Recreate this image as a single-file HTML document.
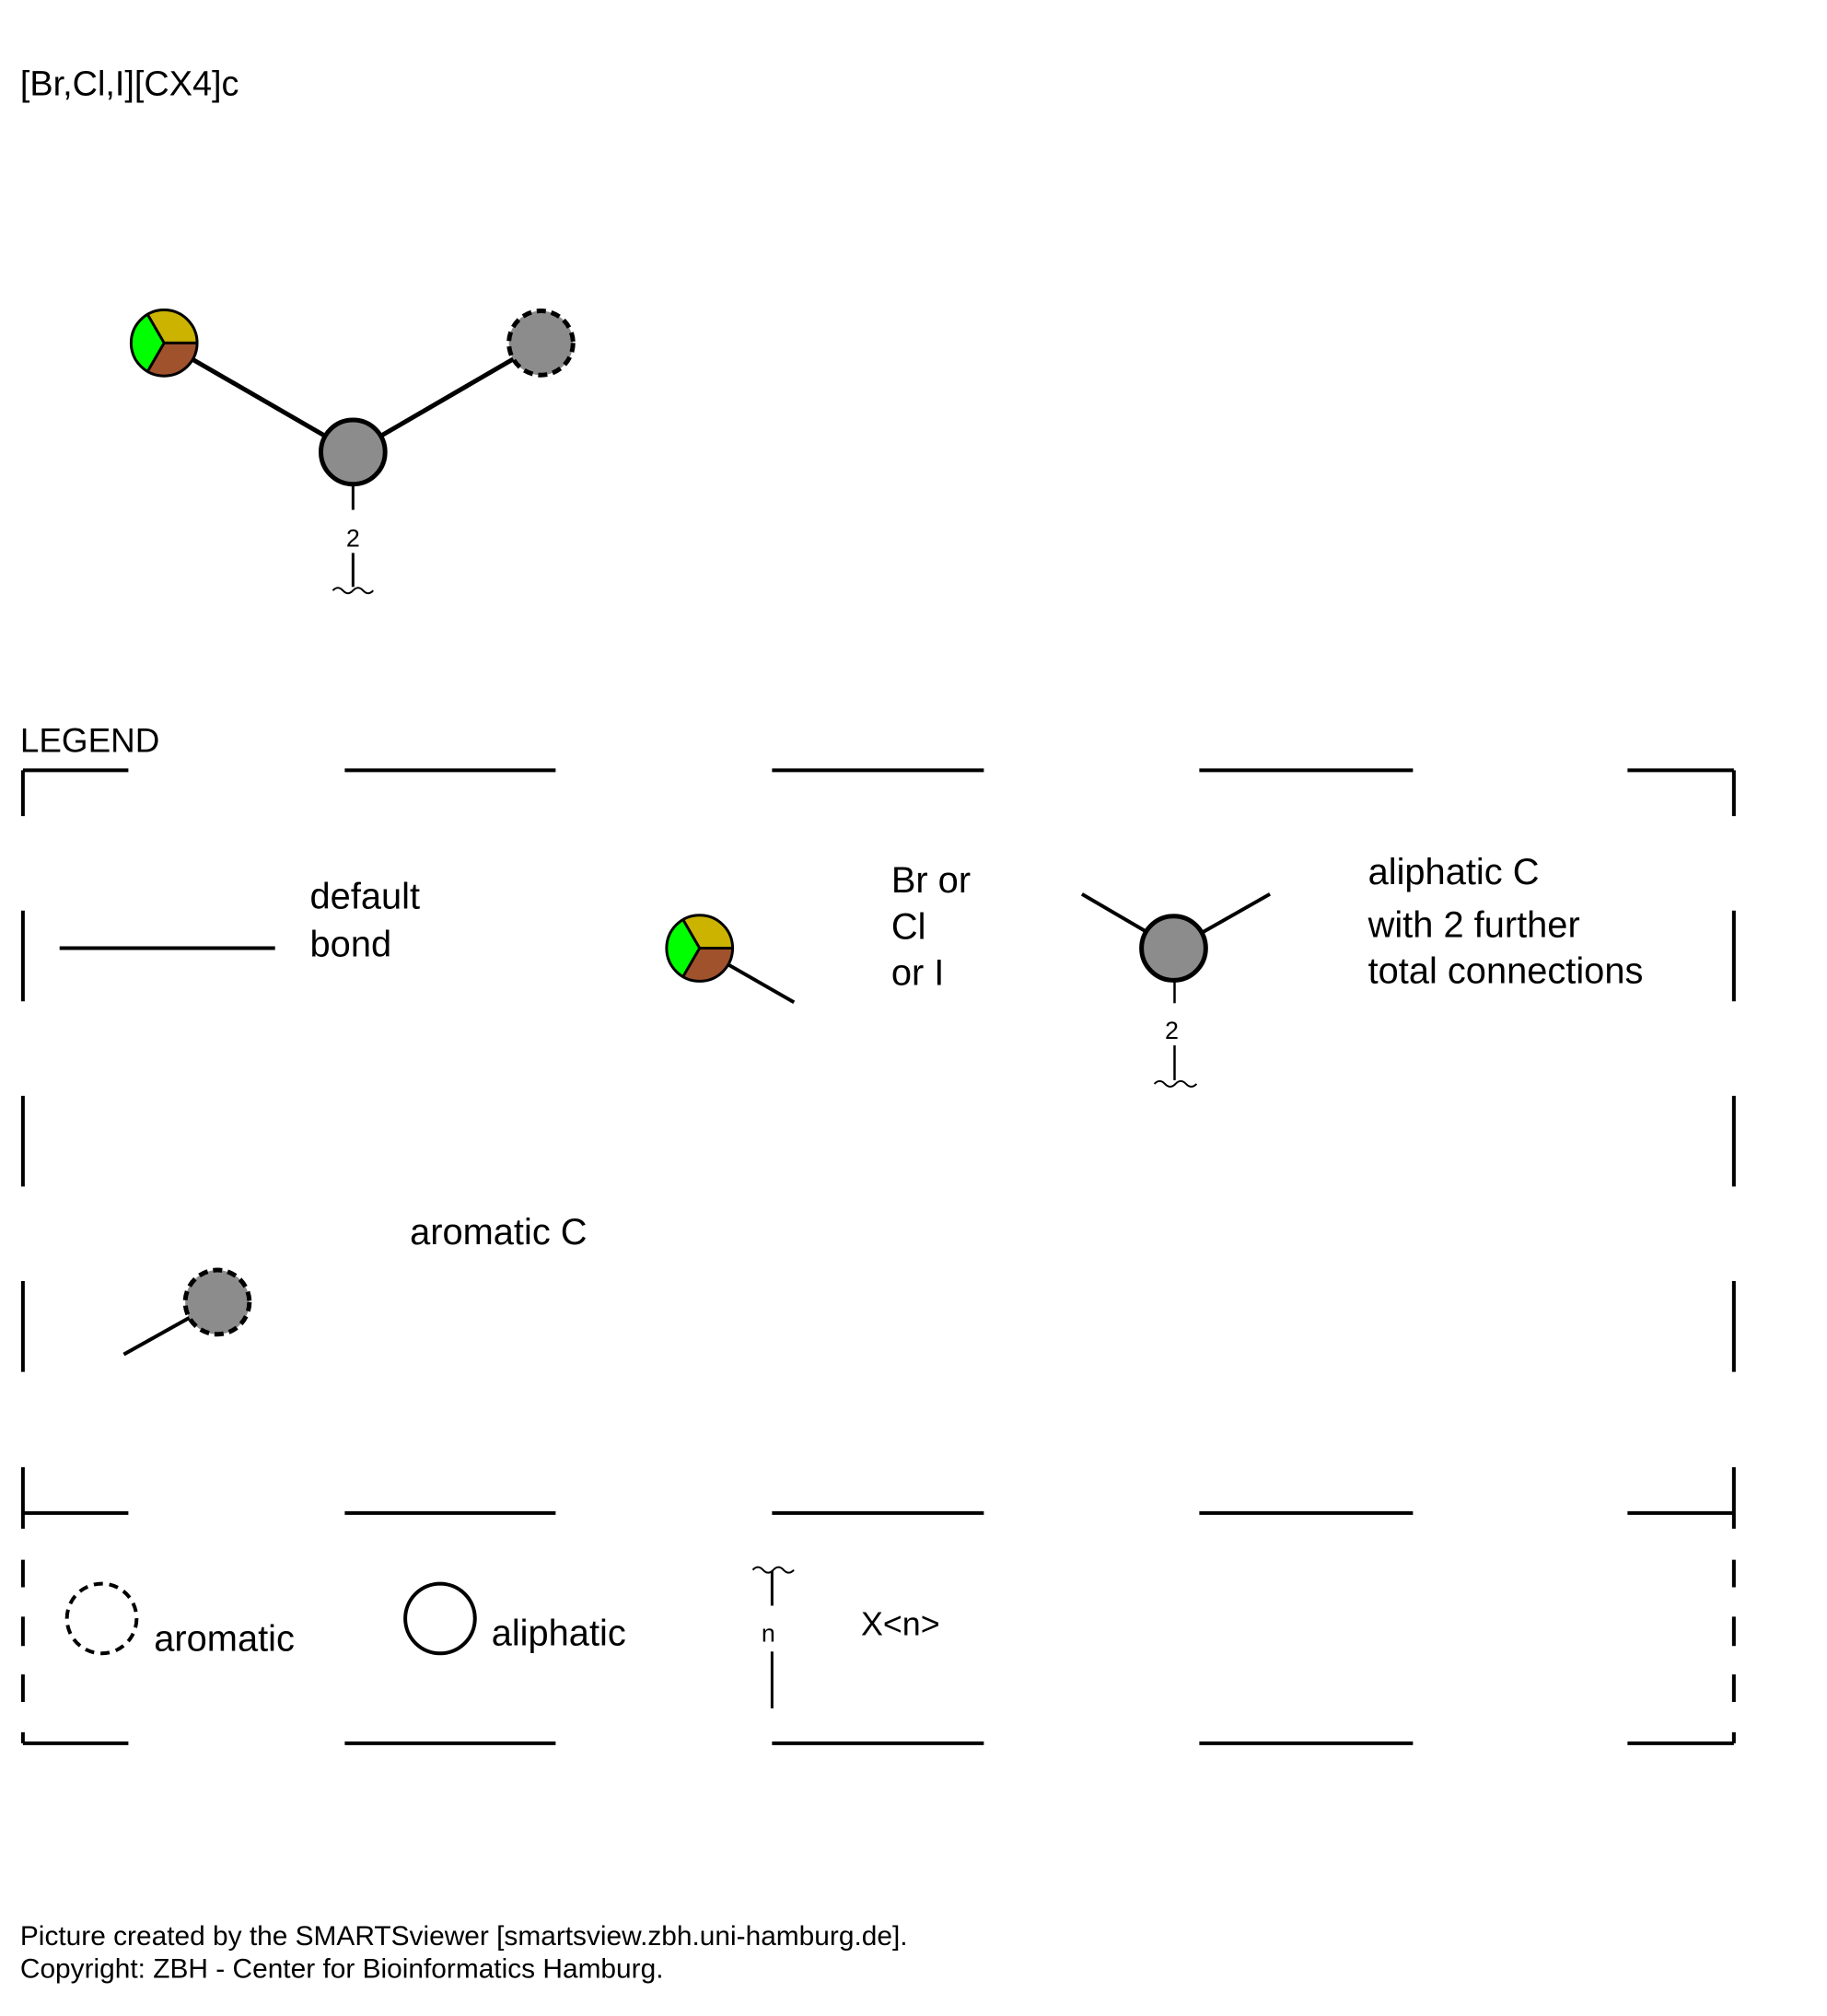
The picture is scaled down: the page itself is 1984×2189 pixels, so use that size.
<!DOCTYPE html>
<html><head><meta charset="utf-8"><style>
html,body{margin:0;padding:0;background:#fff;}
svg{display:block;}
text{font-family:"Liberation Sans",sans-serif;fill:#000;}
</style></head><body>
<svg width="1984" height="2189" viewBox="0 0 1984 2189">
<g transform="scale(0.9957)">
<text x="22" y="104" font-size="38">[Br,Cl,I][CX4]c</text>

<g>
  <line x1="179" y1="374" x2="385" y2="493" stroke="#000" stroke-width="5"/>
  <line x1="385" y1="493" x2="590" y2="374" stroke="#000" stroke-width="5"/>
  <g>
    <path d="M179,374 L161,343 A36,36 0 0 1 215,374 Z" fill="#ccb300"/>
    <path d="M179,374 L215,374 A36,36 0 0 1 161,405 Z" fill="#a0522d"/>
    <path d="M179,374 L161,405 A36,36 0 0 1 161,343 Z" fill="#00ff00"/>
    <path d="M179,374 L161,343 M179,374 L215,374 M179,374 L161,405" stroke="#000" stroke-width="3"/>
    <circle cx="179" cy="374" r="36" fill="none" stroke="#000" stroke-width="3"/>
  </g>
  <circle cx="590" cy="374" r="35" fill="#8c8c8c" stroke="#000" stroke-width="5" stroke-dasharray="10,6"/>
  <circle cx="385" cy="493" r="35" fill="#8c8c8c" stroke="#000" stroke-width="5"/>
  <line x1="385" y1="530" x2="385" y2="556" stroke="#000" stroke-width="3"/>
  <text x="385" y="596" font-size="27" text-anchor="middle">2</text>
  <line x1="385" y1="603" x2="385" y2="640" stroke="#000" stroke-width="3"/>
  <path d="M363,644 q5.5,-6 11,0 q5.5,6 11,0 q5.5,-6 11,0 q5.5,6 11,0" fill="none" stroke="#000" stroke-width="2"/>
</g>

<text x="22" y="820" font-size="37">LEGEND</text>

<g stroke="#000" stroke-width="4">
  <path d="M25,840H140 M376,840H606 M842,840H1073 M1308,840H1541 M1775,840H1891
           M25,1650H140 M376,1650H606 M842,1650H1073 M1308,1650H1541 M1775,1650H1891
           M25,1901H140 M376,1901H606 M842,1901H1073 M1308,1901H1541 M1775,1901H1891
           M25,840V890 M25,993V1092 M25,1195V1294 M25,1397V1496 M25,1600V1667 M25,1701V1731 M25,1763V1795 M25,1826V1856 M25,1889V1901
           M1891,840V890 M1891,993V1092 M1891,1195V1294 M1891,1397V1496 M1891,1600V1667 M1891,1701V1731 M1891,1763V1795 M1891,1826V1856 M1891,1889V1901" fill="none"/>
</g>

<g>
  <line x1="65" y1="1034" x2="300" y2="1034" stroke="#000" stroke-width="4"/>
  <text x="338" y="991" font-size="40">default</text>
  <text x="338" y="1043" font-size="40">bond</text>
</g>

<g>
  <line x1="763" y1="1034" x2="866" y2="1093" stroke="#000" stroke-width="4"/>
  <path d="M763,1034 L745,1003 A36,36 0 0 1 799,1034 Z" fill="#ccb300"/>
  <path d="M763,1034 L799,1034 A36,36 0 0 1 745,1065 Z" fill="#a0522d"/>
  <path d="M763,1034 L745,1065 A36,36 0 0 1 745,1003 Z" fill="#00ff00"/>
  <path d="M763,1034 L745,1003 M763,1034 L799,1034 M763,1034 L745,1065" stroke="#000" stroke-width="3"/>
  <circle cx="763" cy="1034" r="36" fill="none" stroke="#000" stroke-width="3"/>
  <text x="972" y="973" font-size="40">Br or</text>
  <text x="972" y="1024" font-size="40">Cl</text>
  <text x="972" y="1074" font-size="40">or I</text>
</g>

<g>
  <line x1="1180" y1="975" x2="1281" y2="1034" stroke="#000" stroke-width="4"/>
  <line x1="1385" y1="975" x2="1281" y2="1034" stroke="#000" stroke-width="4"/>
  <circle cx="1280" cy="1034" r="35" fill="#8c8c8c" stroke="#000" stroke-width="5"/>
  <line x1="1281" y1="1071" x2="1281" y2="1094" stroke="#000" stroke-width="2.5"/>
  <text x="1278" y="1133" font-size="27" text-anchor="middle">2</text>
  <line x1="1281" y1="1140" x2="1281" y2="1178" stroke="#000" stroke-width="2.5"/>
  <path d="M1259,1182 q5.75,-6 11.5,0 q5.75,6 11.5,0 q5.75,-6 11.5,0 q5.75,6 11.5,0" fill="none" stroke="#000" stroke-width="2"/>
  <text x="1492" y="964" font-size="40">aliphatic C</text>
  <text x="1492" y="1022" font-size="40">with 2 further</text>
  <text x="1492" y="1072" font-size="40">total connections</text>
</g>

<g>
  <line x1="135" y1="1477" x2="237" y2="1420" stroke="#000" stroke-width="4"/>
  <circle cx="237" cy="1420" r="35" fill="#8c8c8c" stroke="#000" stroke-width="5" stroke-dasharray="10,6"/>
  <text x="447" y="1357" font-size="40">aromatic C</text>
</g>

<g>
  <circle cx="111" cy="1765" r="38" fill="none" stroke="#000" stroke-width="4" stroke-dasharray="10,7"/>
  <text x="168" y="1800" font-size="40">aromatic</text>
</g>
<g>
  <circle cx="480" cy="1765" r="38" fill="none" stroke="#000" stroke-width="4"/>
  <text x="536" y="1794" font-size="40">aliphatic</text>
</g>
<g>
  <path d="M821,1712 q5.6,-6 11.2,0 q5.6,6 11.2,0 q5.6,-6 11.2,0 q5.6,6 11.2,0" fill="none" stroke="#000" stroke-width="2"/>
  <line x1="842" y1="1713" x2="842" y2="1751" stroke="#000" stroke-width="3"/>
  <text x="838" y="1790" font-size="27" text-anchor="middle">n</text>
  <line x1="842" y1="1801" x2="842" y2="1863" stroke="#000" stroke-width="3"/>
  <text x="939" y="1783" font-size="36">X&lt;n&gt;</text>
</g>

<text x="22" y="2121" font-size="30">Picture created by the SMARTSviewer [smartsview.zbh.uni-hamburg.de].</text>
<text x="22" y="2157" font-size="30">Copyright: ZBH - Center for Bioinformatics Hamburg.</text>
</g>
</svg>
</body></html>
